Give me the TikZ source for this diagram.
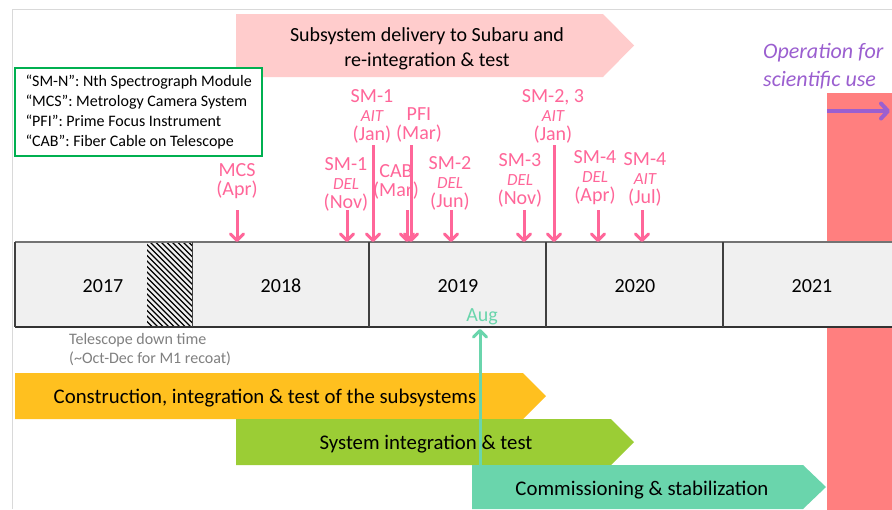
\documentclass[tikz,border=0pt]{standalone}
\usepackage{fontspec}
\setmainfont{Carlito}
\usetikzlibrary{arrows.meta}

\definecolor{pinkmark}{HTML}{FF6699}
\definecolor{bannerpink}{HTML}{FFCCCC}
\definecolor{opred}{HTML}{FF7F7F}
\definecolor{oppurple}{HTML}{9B5FD0}
\definecolor{legendgreen}{HTML}{00B050}
\definecolor{barorange}{HTML}{FFC01F}
\definecolor{bargreen}{HTML}{9BCD35}
\definecolor{barteal}{HTML}{6AD5AC}
\definecolor{tlfill}{HTML}{F0F0F0}
\definecolor{framegray}{HTML}{D9D9D9}

\newcommand\tagtxt[1]{{\fontsize{17}{19}\selectfont\itshape #1}}

\tikzset{
  marklabel/.style={text=pinkmark, align=center, inner sep=0pt,
    font=\fontsize{20}{19}\selectfont},
  markarrow/.style={draw=pinkmark, line width=3pt,
    -{Straight Barb[length=6.5pt,width=13pt,round]}},
  yearlabel/.style={font=\fontsize{20}{24}\selectfont, inner sep=0pt},
  bartext/.style={font=\fontsize{20.8}{24}\selectfont, inner sep=0pt},
}

\begin{document}
\begin{tikzpicture}[x=1pt,y=-1pt]
\clip (0,0) rectangle (892,509);
\fill[white] (0,0) rectangle (892,509);

% page frame
\draw[framegray, line width=1pt] (12,509) -- (12,9) -- (892,9);

% operation period
\fill[opred] (827,93) rectangle (900,515);

% delivery banner
\fill[bannerpink] (236,14) -- (603,14) -- (634,45.5) -- (603,77) -- (236,77) -- cycle;
\node[inner sep=0pt, align=center, font=\fontsize{20}{25}\selectfont] (banner) at (427,48.5)
  {Subsystem delivery to Subaru and\\re-integration \& test};

% legend
\node[draw=legendgreen, line width=2pt, fill=white, anchor=north west,
      align=left, minimum height=88pt, inner xsep=10.5pt,
      font=\fontsize{16}{20}\selectfont] (legend) at (14,67)
  {“SM-N”: Nth Spectrograph Module\\
   “MCS”: Metrology Camera System\\
   “PFI”: Prime Focus Instrument\\
   “CAB”: Fiber Cable on Telescope};

% operation label and arrow
\node[text=oppurple, align=left, anchor=west, inner sep=0pt,
      font=\fontsize{22}{28}\selectfont\itshape] (oplabel) at (763,66)
  {Operation for\\scientific use};
\coordinate (opS) at (827,111);
\coordinate (opE) at (890,111);
\draw[oppurple, line width=4pt, -{Straight Barb[length=7pt,width=15pt,round]}] (opS) -- (opE);

% time line
\fill[tlfill] (15,242) rectangle (900,327);
\begin{scope}
  \clip (147,242) rectangle (192.5,327);
  \foreach \x in {40,45.5,...,200} {
    \draw[black, line width=1.3pt] (\x,242) -- (\x+85,327);
  }
\end{scope}
\draw[gray!90!black, line width=1.5pt] (15,242) -- (900,242);
\draw[black!80, line width=1.5pt] (15,327) -- (900,327);
\draw[black!75, line width=1.5pt] (15,242) -- (15,327);
\foreach \x in {192.5,369,546,723} {
  \draw[black!75, line width=1.3pt] (\x,242) -- (\x,327);
}
\node[yearlabel] (y2017) at (103,286) {2017};
\node[yearlabel] (y2018) at (281,286) {2018};
\node[yearlabel] (y2019) at (458,286) {2019};
\node[yearlabel] (y2020) at (635,286) {2020};
\node[yearlabel] (y2021) at (812,286) {2021};

\node[text=gray, align=left, anchor=west, inner sep=0pt,
      font=\fontsize{16}{18.5}\selectfont] (downtime) at (69,349.5)
  {Telescope down time\\(\textasciitilde Oct-Dec for M1 recoat)};

% milestone labels
\node[marklabel] (mcs)   at (237,181) {MCS\\(Apr)};
\node[marklabel] (sm1d)  at (346,184) {SM-1\\\tagtxt{DEL}\\(Nov)};
\node[marklabel] (sm1a)  at (372,116) {SM-1\\\tagtxt{AIT}\\(Jan)};
\node[marklabel] (cab)   at (396,182) {CAB\\(Mar)};
\node[marklabel] (pfi)   at (419,125) {PFI\\(Mar)};
\node[marklabel] (sm2d)  at (450,183) {SM-2\\\tagtxt{DEL}\\(Jun)};
\node[marklabel] (sm3d)  at (520,180) {SM-3\\\tagtxt{DEL}\\(Nov)};
\node[marklabel] (sm23a) at (553,116) {SM-2, 3\\\tagtxt{AIT}\\(Jan)};
\node[marklabel] (sm4d)  at (595,178) {SM-4\\\tagtxt{DEL}\\(Apr)};
\node[marklabel] (sm4a)  at (645,179) {SM-4\\\tagtxt{AIT}\\(Jul)};

% milestone arrows: start below each label, end on the time line
\foreach \n/\x/\s in {mcs/237/210, sm1d/347/210, sm1a/373/145, cab/407/210,
                      pfi/411/145, sm2d/451/210, sm3d/524/210, sm23a/554/145,
                      sm4d/598/210, sm4a/642/210} {
  \coordinate (\n-s) at (\x,\s);
  \coordinate (\n-e) at (\x,242);
  \draw[markarrow] (\n-s) -- (\n-e);
}

% phase bars
\fill[barorange] (15,373) -- (523,373) -- (546,396) -- (523,419) -- (15,419) -- cycle;
\fill[bargreen] (236,419) -- (611,419) -- (634,442) -- (611,465) -- (236,465) -- cycle;
\fill[barteal] (472,465) -- (803,465) -- (826,487) -- (803,509) -- (472,509) -- cycle;

% commissioning start
\node[text=barteal, inner sep=0pt, font=\fontsize{20}{24}\selectfont] (aug) at (482,317) {Aug};
\coordinate (augS) at (480,465);
\coordinate (augE) at (480,329);
\draw[barteal, line width=3pt, -{Straight Barb[length=6.5pt,width=13pt,round]}] (augS) -- (augE);

\node[bartext] (phase1) at (265,398) {Construction, integration \& test of the subsystems};
\node[bartext] (phase2) at (426,444) {System integration \& test};
\node[bartext] (phase3) at (642,490) {Commissioning \& stabilization};
\end{tikzpicture}
\end{document}
